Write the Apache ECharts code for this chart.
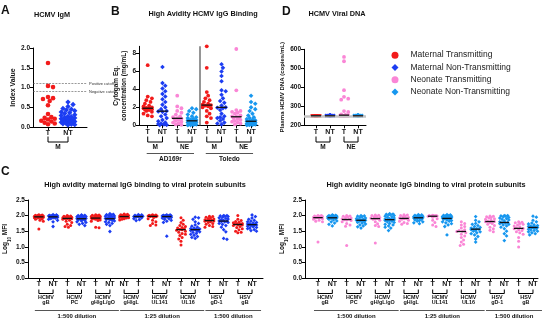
<!DOCTYPE html>
<html><head><meta charset="utf-8">
<script src="https://cdn.jsdelivr.net/npm/echarts@6/dist/echarts.min.js"></script>
<style>html,body{margin:0;padding:0;background:#fff}#c{width:550px;height:323px}</style>
</head><body><div id="c"></div>
<script>
// ================= DATA =================
const seriesNames = ['Maternal Transmitting','Maternal Non-Transmitting','Neonate Transmitting','Neonate Non-Transmitting'];

// Panel A: HCMV IgM index value
const aCats = ['T','NT'];
const aT  = [1.62,1.04,1.01,0.76,0.73,0.71,0.66,0.55,0.33,0.25,0.23,0.21,0.19,0.16,0.14,0.11,0.09,0.07];
const aNT = [0.63,0.57,0.52,0.47,0.45,0.43,0.41,0.38,0.36,0.34,0.31,0.29,0.27,0.26,0.24,0.23,0.21,0.2,0.19,0.18,0.17,0.16,0.15,0.14,0.13,0.12,0.11,0.1,0.09,0.08,0.07,0.06,0.05];
const aCutoffs = [1.1, 0.9];
const aCutoffLabels = ['Positive cutoff','Negative cutoff'];
const aPair = ['M'];

// Panel B: high avidity HCMV IgG binding (Cytogam eq. mg/mL)
const bCats = ['T','NT','T','NT','T','NT','T','NT'];
const bAD_MT   = [6.7,3.2,3.0,2.8,2.6,2.4,2.2,2.1,2.0,1.95,1.9,1.9,1.85,1.8,1.75,1.7,1.6,1.5,1.3,1.1,1.0];
const bAD_MNT  = [6.5,4.7,4.4,4.1,3.8,3.5,3.2,2.9,2.6,2.3,2.0,1.8,1.6,1.55,1.5,1.2,1.0,0.8,0.6,0.45,0.3,0.2,0.15,0.1,0.05,0.02];
const bAD_NET  = [3.3,2.1,1.9,1.6,1.4,1.2,1.0,0.9,0.8,0.75,0.7,0.6,0.5,0.4,0.3,0.2,0.1,0.05];
const bAD_NENT = [1.9,1.8,1.6,1.4,1.2,1.0,0.9,0.8,0.7,0.65,0.6,0.55,0.5,0.5,0.45,0.4,0.35,0.3,0.3,0.25,0.2,0.15,0.1,0.05,0.02,0.0];
const bTO_MT   = [8.8,6.4,3.7,3.3,3.0,2.8,2.6,2.4,2.3,2.25,2.2,2.1,2.0,1.9,1.6,1.3,1.0,0.8,0.3];
const bTO_MNT  = [6.8,6.4,6.0,5.5,4.9,3.9,3.8,3.4,3.0,2.7,2.5,2.2,2.0,1.95,1.9,1.7,1.3,1.0,0.9,0.8,0.7,0.5,0.3,0.2,0.1];
const bTO_NET  = [8.5,3.9,1.7,1.6,1.5,1.4,1.3,1.1,1.0,0.95,0.9,0.8,0.7,0.6,0.5,0.4,0.3,0.2,0.1];
const bTO_NENT = [3.3,2.6,2.4,2.0,1.8,1.6,1.3,1.1,0.9,0.8,0.7,0.6,0.55,0.5,0.45,0.4,0.4,0.35,0.3,0.3,0.25,0.2,0.2,0.15,0.1,0.1,0.05,0.05,0.02];
const bPairs = ['M','NE','M','NE'];
const bStrains = ['AD169r','Toledo'];

// Panel D: plasma HCMV DNA (copies/mL)
const dCats = ['T','NT','T','NT'];
const dMT   = [250,250,250,250,250,250,250,250,250,250,250,250,250,250,250,250,250,250,250,250];
const dMNT  = [250,250,250,250,250,250,250,250,250,250,250,250,250,250,250,250,250,250,250,250,250,250,250,250];
const dNET  = [560,537,385,350,340,335,275,270,258,255,252,250,250,250,250,250,250,250,250,250];
const dNENT = [250,250,250,250,250,250,250,250,250,250,250,250,250,250,250,250,250,250,250,250,250,250];
const dLLOD = 250;
const dPairs = ['M','NE'];

// Panel C: Log10 MFI, high avidity IgG binding to viral protein subunits
const cMatCats = ['T','NT','T','NT','T','NT','NT','T','T','NT','T','NT','T','NT','T','NT'];
const cNeoCats = ['T','NT','T','NT','T','NT','T','NT','T','NT','T','NT','T','NT','T','NT'];
const cGroups = ['HCMV\ngB','HCMV\nPC','HCMV\ngH/gL/gO','HCMV\ngH/gL','HCMV\nUL141','HCMV\nUL16','HSV\ngD-1','HSV\ngB'];
const cDilutions = ['1:500 dilution','1:25 dilution','1:500 dilution'];
const cDilutionGroups = [[0,2],[3,5],[6,7]];

const mat_gB_T   = [2.03,2.02,2.01,2.0,2.0,1.99,1.98,1.97,1.96,1.96,1.95,1.94,1.93,1.92,1.9,1.88,1.85,1.82,1.57];
const mat_gB_NT  = [2.03,2.02,2.01,2.0,2.0,1.99,1.99,1.98,1.97,1.97,1.96,1.96,1.96,1.95,1.94,1.93,1.92,1.9,1.88,1.85,1.8,1.65];
const mat_PC_T   = [2.0,1.99,1.98,1.97,1.96,1.95,1.93,1.92,1.91,1.91,1.9,1.88,1.85,1.82,1.78,1.72,1.68,1.65,1.63];
const mat_PC_NT  = [2.02,2.01,2.0,1.99,1.98,1.97,1.96,1.95,1.93,1.92,1.91,1.9,1.9,1.89,1.88,1.86,1.85,1.83,1.8,1.78,1.75,1.72,1.68];
const mat_gO_T   = [2.03,2.02,2.01,2.0,1.99,1.98,1.97,1.96,1.95,1.93,1.92,1.92,1.91,1.9,1.9,1.89,1.88,1.86,1.84,1.82,1.63,1.61];
const mat_gO_NT  = [2.06,2.04,2.03,2.02,2.0,1.99,1.98,1.96,1.95,1.93,1.92,1.91,1.9,1.9,1.89,1.88,1.87,1.85,1.83,1.8,1.78,1.75,1.72,1.68,1.49];
const mat_gHgL_a = [2.05,2.04,2.03,2.02,2.01,2.0,1.99,1.98,1.98,1.97,1.97,1.96,1.95,1.94,1.93,1.92,1.9,1.88,1.86];
const mat_gHgL_b = [2.03,2.02,2.01,2.0,1.99,1.98,1.97,1.97,1.96,1.95,1.93,1.9,1.87,1.84];
const mat_UL141_T  = [2.03,2.02,2.01,2.0,2.0,1.99,1.99,1.98,1.98,1.97,1.96,1.94,1.9,1.85,1.8,1.75,1.7,1.68];
const mat_UL141_NT = [2.02,2.02,2.01,2.0,2.0,1.99,1.99,1.98,1.98,1.97,1.97,1.97,1.96,1.95,1.94,1.92,1.9,1.88,1.85,1.82,1.78,1.34];
const mat_UL16_T   = [1.93,1.85,1.78,1.72,1.68,1.65,1.62,1.6,1.58,1.56,1.55,1.53,1.5,1.47,1.43,1.4,1.36,1.3,1.25,1.18,1.06];
const mat_UL16_NT  = [1.95,1.93,1.88,1.8,1.75,1.7,1.66,1.63,1.6,1.58,1.57,1.56,1.55,1.55,1.54,1.52,1.5,1.48,1.46,1.43,1.4,1.37,1.33,1.3,1.27];
const mat_gD1_T    = [1.98,1.97,1.95,1.93,1.91,1.89,1.87,1.86,1.85,1.84,1.83,1.82,1.8,1.78,1.75,1.72,1.68,1.65,1.63];
const mat_gD1_NT   = [2.0,2.0,1.99,1.98,1.97,1.95,1.93,1.91,1.89,1.87,1.85,1.83,1.82,1.81,1.8,1.78,1.75,1.72,1.68,1.63,1.55,1.48,1.27,1.24];
const mat_HSVgB_T  = [2.0,1.88,1.84,1.81,1.79,1.77,1.75,1.74,1.73,1.72,1.71,1.7,1.68,1.65,1.62,1.58,1.55,1.5,1.47,1.45];
const mat_HSVgB_NT = [2.02,1.97,1.92,1.88,1.85,1.82,1.8,1.78,1.76,1.74,1.73,1.72,1.71,1.7,1.7,1.69,1.68,1.66,1.64,1.62,1.6,1.58,1.55,1.52,1.5];

const neo_gB_T   = [2.0,2.0,1.99,1.98,1.97,1.96,1.95,1.94,1.93,1.92,1.9,1.88,1.85,1.82,1.8,1.15];
const neo_gB_NT  = [2.02,2.01,2.0,2.0,1.99,1.98,1.97,1.96,1.95,1.94,1.93,1.93,1.92,1.91,1.9,1.88,1.86,1.83,1.8,1.76,1.72,1.67];
const neo_PC_T   = [2.0,1.99,1.98,1.96,1.94,1.92,1.9,1.88,1.87,1.86,1.84,1.8,1.75,1.7,1.66,1.04];
const neo_PC_NT  = [2.0,1.99,1.98,1.96,1.94,1.92,1.9,1.88,1.87,1.86,1.85,1.85,1.84,1.82,1.8,1.78,1.76,1.73,1.7,1.67,1.64,1.6];
const neo_gO_T   = [2.02,2.01,2.0,1.98,1.96,1.94,1.92,1.91,1.9,1.88,1.85,1.8,1.74,1.68,1.65,1.12];
const neo_gO_NT  = [2.06,2.05,2.04,2.03,2.02,2.0,1.98,1.96,1.94,1.92,1.9,1.89,1.88,1.87,1.86,1.85,1.84,1.82,1.8,1.78,1.75,1.72,1.7,1.67,1.63,1.6,1.52];
const neo_gHgL_T  = [2.03,2.02,2.0,1.98,1.96,1.94,1.92,1.91,1.9,1.88,1.85,1.82,1.78,1.75,1.72];
const neo_gHgL_NT = [2.03,2.02,2.01,2.0,1.99,1.98,1.97,1.96,1.95,1.94,1.93,1.92,1.91,1.9,1.88,1.86,1.84,1.82,1.8,1.77,1.74];
const neo_UL141_T  = [2.01,2.0,2.0,2.0,1.99,1.99,1.98,1.98,1.95,1.9,1.85,1.78,1.7,1.65];
const neo_UL141_NT = [2.03,2.02,2.01,2.0,1.99,1.98,1.97,1.96,1.95,1.94,1.93,1.92,1.91,1.9,1.89,1.88,1.86,1.84,1.82,1.8,1.77,1.74,1.7,1.65,1.38];
const neo_UL16_T   = [1.8,1.75,1.7,1.65,1.6,1.55,1.52,1.5,1.49,1.45,1.4,1.35,1.3,1.22,1.15,1.08,1.04];
const neo_UL16_NT  = [1.97,1.85,1.8,1.75,1.72,1.68,1.65,1.62,1.6,1.58,1.57,1.56,1.55,1.53,1.5,1.48,1.45,1.42,1.38,1.33,1.25,1.15];
const neo_gD1_T    = [1.99,1.98,1.96,1.94,1.92,1.9,1.88,1.85,1.82,1.81,1.8,1.78,1.75,1.72,1.68,1.63,1.58,1.53,1.48];
const neo_gD1_NT   = [2.0,2.0,1.99,1.98,1.96,1.94,1.92,1.9,1.88,1.86,1.83,1.8,1.78,1.77,1.76,1.74,1.72,1.7,1.67,1.63,1.58,1.5,1.42,1.35,1.2];
const neo_HSVgB_T  = [1.8,1.79,1.77,1.75,1.72,1.7,1.67,1.64,1.61,1.59,1.58,1.55,1.52,1.48,1.45,1.4,1.3,1.18,0.99];
const neo_HSVgB_NT = [1.98,1.95,1.85,1.8,1.76,1.73,1.7,1.68,1.66,1.65,1.64,1.63,1.62,1.62,1.61,1.6,1.58,1.56,1.54,1.52,1.5,1.48,1.45,1.42,1.38];

// ================= RENDER =================
const FONT = '"Liberation Sans", Arial, Helvetica, sans-serif';
const STYLE = [
  {color:'#f21b1b', symbol:'circle'},
  {color:'#1c3df2', symbol:'diamond'},
  {color:'#fa86d6', symbol:'circle'},
  {color:'#1797ef', symbol:'diamond'}
];
function median(a){const s=[...a].sort((x,y)=>x-y);const n=s.length;return n%2?s[(n-1)/2]:(s[n/2-1]+s[n/2])/2;}
function swarm(vals,pyu,pxu,r,maxHalf){
  const n=vals.length, idx=vals.map((_,i)=>i).sort((a,b)=>vals[b]-vals[a]);
  const placed=[], off=new Array(n).fill(0), step=r*0.7;
  idx.forEach(i=>{
    const y=vals[i]*pyu; let best=0,bestD=-1;
    for(let k=0;;k++){
      const c=(k%2?1:-1)*Math.ceil(k/2)*step;
      if(Math.abs(c)>maxHalf) break;
      let dmin=Infinity;
      placed.forEach(p=>{const d=Math.hypot(p[0]-c,p[1]-y); if(d<dmin) dmin=d;});
      if(dmin>=2*r*0.9){best=c;bestD=dmin;break;}
      if(dmin>bestD){bestD=dmin;best=c;}
    }
    placed.push([best,y]); off[i]=best/pxu;
  });
  return off;
}
function bold(sz){return {fontFamily:FONT,fontWeight:'bold',fontSize:sz,color:'#111'};}

const grids=[],xAxes=[],yAxes=[],series=[];
function addPanel(p){
  const gi=grids.length;
  grids.push(p.grid);
  const xs=p.cats.map((_,i)=>i+1);
  xAxes.push({gridIndex:gi,type:'value',min:p.xmin,max:p.xmax,
    axisLine:{show:true,onZero:false,lineStyle:{color:'#000',width:1}},
    axisTick:{show:true,customValues:xs,length:3,lineStyle:{color:'#000',width:1}},
    axisLabel:Object.assign({customValues:xs,formatter:v=>p.cats[Math.round(v)-1],margin:3},bold(7)),
    splitLine:{show:false}});
  const y={gridIndex:gi,type:'value',min:p.ymin,max:p.ymax,
    axisLine:{show:true,onZero:false,lineStyle:{color:'#000',width:1}},
    axisTick:{show:true,length:3,lineStyle:{color:'#000',width:1}},
    axisLabel:Object.assign({margin:3,showMaxLabel:true},bold(6.5)),
    splitLine:{show:false},
    name:p.yname,nameLocation:'middle',nameGap:p.ygap,nameRotate:90,
    nameTextStyle:Object.assign({lineHeight:8},bold(p.ynfs||6.5))};
  if(p.yfmt) y.axisLabel.formatter=p.yfmt;
  if(p.yint) y.interval=p.yint;
  if(p.ycustom){y.axisTick.customValues=p.ycustom;y.axisLabel.customValues=p.ycustom;}
  yAxes.push(y);
  const pyu=p.grid.height/(p.ymax-p.ymin), pxu=p.grid.width/(p.xmax-p.xmin);
  const medData=[];
  p.groups.forEach((g,i)=>{
    const st=STYLE[g.k];
    const off=swarm(g.v,pyu,pxu,p.r,p.spread);
    series.push({type:'scatter',name:seriesNames[g.k],xAxisIndex:gi,yAxisIndex:gi,
      symbol:st.symbol,symbolSize:st.symbol==='diamond'?p.size+0.8:p.size,
      itemStyle:{color:st.color,opacity:1},z:3,silent:true,
      data:g.v.map((v,j)=>[i+1+off[j],v])});
    medData.push([i+1,median(g.v)]);
  });
  if(p.median){
    const hw=p.medHalf;
    series.push({type:'custom',xAxisIndex:gi,yAxisIndex:gi,data:medData,z:6,silent:true,
      renderItem:(params,api)=>{const a=api.coord([api.value(0)-hw,api.value(1)]),b=api.coord([api.value(0)+hw,api.value(1)]);
        return {type:'line',shape:{x1:a[0],y1:a[1],x2:b[0],y2:b[1]},style:{stroke:'#111',lineWidth:1.3}};}});
  }
  if(p.markLine){
    series.push({type:'scatter',xAxisIndex:gi,yAxisIndex:gi,data:[[1,p.ymin]],symbolSize:0,itemStyle:{opacity:0},z:1,silent:true,
      markLine:Object.assign({silent:true,symbol:'none',animation:false},p.markLine)});
  }
  return gi;
}

const gA=addPanel({grid:{left:33,top:48,width:54,height:79},xmin:0.25,xmax:2.95,ymin:0,ymax:2,yint:0.5,
  yfmt:v=>v.toFixed(1),yname:'Index Value',ygap:15,ynfs:7,cats:aCats,size:4.6,r:2.4,spread:7,median:false,
  groups:[{v:aT,k:0},{v:aNT,k:1}],
  markLine:{lineStyle:{type:[2,1.2],color:'#555',width:0.6},
    label:{show:true,position:'end',fontSize:4,fontFamily:FONT,color:'#333',distance:2},
    data:aCutoffs.map((v,i)=>({yAxis:v,label:{formatter:aCutoffLabels[i]}}))}});

const gB=addPanel({grid:{left:139,top:46.3,width:119,height:79},xmin:0.41,xmax:8.47,ymin:0,ymax:8.8,ycustom:[0,2,4,6,8],
  yname:'Cytogam Eq.\nconcentration (mg/mL)',ygap:9,ynfs:6.5,cats:bCats,size:3.8,r:2,spread:5.5,median:true,medHalf:0.36,
  groups:[{v:bAD_MT,k:0},{v:bAD_MNT,k:1},{v:bAD_NET,k:2},{v:bAD_NENT,k:3},{v:bTO_MT,k:0},{v:bTO_MNT,k:1},{v:bTO_NET,k:2},{v:bTO_NENT,k:3}],
  markLine:{lineStyle:{type:'solid',color:'#8a8a8a',width:1.8},label:{show:false},data:[{xAxis:4.5}]}});

const gD=addPanel({grid:{left:304,top:49.3,width:62,height:76},xmin:0.143,xmax:4.57,ymin:200,ymax:600,yint:100,
  yname:'Plasma HCMV DNA (copies/mL)',ygap:13,ynfs:6,cats:dCats,size:3.8,r:2,spread:5,median:true,medHalf:0.36,
  groups:[{v:dMT,k:0},{v:dMNT,k:1},{v:dNET,k:2},{v:dNENT,k:3}],
  markLine:{lineStyle:{type:'solid',color:'#c4c4c4',width:2.5},label:{show:false},data:[{yAxis:dLLOD}]}});

const matGroups=[mat_gB_T,mat_gB_NT,mat_PC_T,mat_PC_NT,mat_gO_T,mat_gO_NT,mat_gHgL_a,mat_gHgL_b,mat_UL141_T,mat_UL141_NT,mat_UL16_T,mat_UL16_NT,mat_gD1_T,mat_gD1_NT,mat_HSVgB_T,mat_HSVgB_NT];
const neoGroups=[neo_gB_T,neo_gB_NT,neo_PC_T,neo_PC_NT,neo_gO_T,neo_gO_NT,neo_gHgL_T,neo_gHgL_NT,neo_UL141_T,neo_UL141_NT,neo_UL16_T,neo_UL16_NT,neo_gD1_T,neo_gD1_NT,neo_HSVgB_T,neo_HSVgB_NT];
const gC1=addPanel({grid:{left:26,top:200,width:237,height:78},xmin:0.232,xmax:16.77,ymin:0,ymax:2.5,yint:0.5,
  yfmt:v=>v.toFixed(1),yname:'Log{s|10} MFI',ygap:15,ynfs:6.5,cats:cMatCats,size:3,r:1.6,spread:5,median:true,medHalf:0.33,
  groups:matGroups.map((v,i)=>({v:v,k:i%2?1:0}))});
const gC2=addPanel({grid:{left:305,top:200,width:233,height:78},xmin:0.093,xmax:16.35,ymin:0,ymax:2.5,yint:0.5,
  yfmt:v=>v.toFixed(1),yname:'Log{s|10} MFI',ygap:14,ynfs:6.5,cats:cNeoCats,size:3,r:1.6,spread:5,median:true,medHalf:0.33,
  groups:neoGroups.map((v,i)=>({v:v,k:i%2?3:2}))});
[gC1,gC2].forEach(g=>{yAxes[g].nameTextStyle.rich={s:{fontFamily:FONT,fontWeight:'bold',fontSize:4.5,color:'#111',verticalAlign:'bottom',padding:[0,0,-3,0]}};});

const T=(text,left,top,size,align)=>({text:text,left:left,top:top,padding:0,textAlign:align||'left',
  textStyle:{fontFamily:FONT,fontWeight:'bold',fontSize:size,color:'#111'}});

const chart=echarts.init(document.getElementById('c'),null,{renderer:'canvas',width:550,height:323});
chart.setOption({
  animation:false,
  backgroundColor:'#fff',
  title:[
    T('A',1,5,12),T('B',111,6,12),T('D',282,6,12),T('C',1,166,12),
    T('HCMV IgM',52,11,7.3,'center'),
    T('High Avidity HCMV IgG Binding',203,10,7.3,'center'),
    T('HCMV Viral DNA',337,10,7.3,'center'),
    T('High avidity maternal IgG binding to viral protein subunits',145,181,7.3,'center'),
    T('High avidity neonate IgG binding to viral protein subunits',426,181,7.3,'center')
  ],
  legend:{orient:'vertical',left:386.5,top:45,itemWidth:7,itemHeight:7,itemGap:2,selectedMode:false,symbolKeepAspect:true,
    data:seriesNames,textStyle:{fontFamily:FONT,fontSize:8.5,color:'#222',lineHeight:10.3,padding:[0,0,0,7]}},
  grid:grids,xAxis:xAxes,yAxis:yAxes,series:series
});

// brackets and group labels, placed from the axis scales
const G=[];
function px(gi,x){return chart.convertToPixel({gridIndex:gi},[x,0])[0];}
function txt(x,y,t,fs){return {type:'text',x:x,y:y,silent:true,
  style:{text:t,font:'bold '+fs+'px '+FONT,fill:'#111',align:'center',verticalAlign:'middle',textAlign:'center',textVerticalAlign:'middle',lineHeight:fs}};}
function bracket(gi,a,b,y1,y2,label,ly,fs){
  const xa=px(gi,a),xb=px(gi,b);
  G.push({type:'polyline',silent:true,shape:{points:[[xa,y1],[xa,y2],[xb,y2],[xb,y1]]},style:{stroke:'#000',lineWidth:1,fill:null}});
  G.push(txt((xa+xb)/2,ly,label,fs));
}
function hline(gi,a,b,y,d1,d2,label,ly,fs){
  const xa=px(gi,a)+d1,xb=px(gi,b)+d2;
  G.push({type:'line',silent:true,shape:{x1:xa,y1:y,x2:xb,y2:y},style:{stroke:'#555',lineWidth:1}});
  G.push(txt((xa+xb)/2,ly,label,fs));
}
bracket(gA,1,2,136.5,142,aPair[0],147.5,6.5);
bPairs.forEach((l,i)=>bracket(gB,2*i+1,2*i+2,136.5,142,l,147.5,6.5));
bStrains.forEach((l,i)=>hline(gB,4*i+1,4*i+4,153.5,-1,2,l,159,6.5));
dPairs.forEach((l,i)=>bracket(gD,2*i+1,2*i+2,136.5,142,l,147.5,6.5));
[gC1,gC2].forEach(g=>{
  cGroups.forEach((l,i)=>bracket(g,2*i+1,2*i+2,289.5,293.5,l,299.8,5.4));
  cDilutions.forEach((l,i)=>{const s=cDilutionGroups[i];hline(g,2*s[0]+1,2*s[1]+2,310.5,-4,9,l,316.5,6);});
});
chart.setOption({graphic:G});
</script></body></html>
